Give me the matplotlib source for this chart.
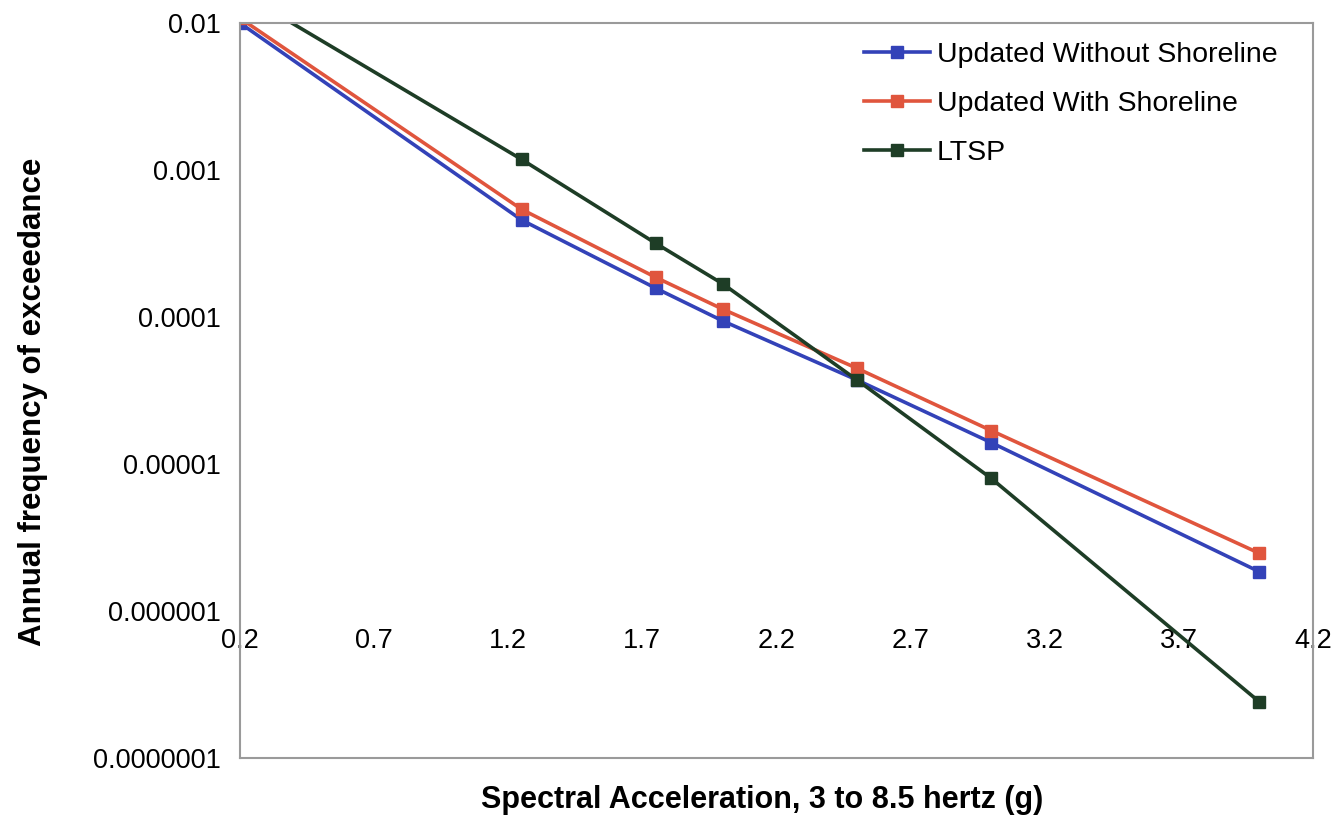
import matplotlib
matplotlib.use("Agg")
import matplotlib.pyplot as plt

# Datos
aceleracion = [0.2, 1.25, 1.75, 2.0, 2.5, 3.0, 4.0]
sin_costa = [0.0100, 4.57e-4, 1.57e-4, 9.4e-5, 3.73e-5, 1.40e-5, 1.85e-6]
con_costa = [0.0108, 5.4e-4, 1.86e-4, 1.13e-4, 4.48e-5, 1.69e-5, 2.47e-6]
ltsp = [0.0162, 1.18e-3, 3.17e-4, 1.68e-4, 3.73e-5, 8.0e-6, 2.41e-7]

etiquetas_x = ["0.2", "0.7", "1.2", "1.7", "2.2", "2.7", "3.2", "3.7", "4.2"]
valores_x = [0.2, 0.7, 1.2, 1.7, 2.2, 2.7, 3.2, 3.7, 4.2]
valores_y = [1e-7, 1e-6, 1e-5, 1e-4, 1e-3, 1e-2]
etiquetas_y = ["0.0000001", "0.000001", "0.00001", "0.0001", "0.001", "0.01"]

plt.rcParams["font.family"] = ["Liberation Sans", "DejaVu Sans"]

fig = plt.figure(figsize=(13.42, 8.33), dpi=100)
ax = fig.add_axes([0.1788, 0.090, 0.7996, 0.8824])

estilo = dict(marker="s", markersize=8.5, linewidth=2.6, clip_on=True)
ax.plot(aceleracion, sin_costa, color="#3342b8", label="Updated Without Shoreline", **estilo)
ax.plot(aceleracion, con_costa, color="#e0553d", label="Updated With Shoreline", **estilo)
ax.plot(aceleracion, ltsp, color="#1e3d26", label="LTSP", **estilo)

ax.set_yscale("log")
ax.set_xlim(0.2, 4.2)
ax.set_ylim(1e-7, 1e-2)
ax.set_yticks(valores_y)
ax.set_yticklabels(etiquetas_y)
ax.yaxis.set_minor_locator(matplotlib.ticker.NullLocator())
ax.tick_params(axis="y", length=0, pad=14, labelsize=19.5)

# el eje x cruza en 0.000001 (como en Excel)
ax.set_xticks([])
sec = ax.secondary_xaxis(0.2)
sec.set_xticks(valores_x)
sec.set_xticklabels(etiquetas_x)
sec.tick_params(length=0, pad=12, labelsize=19.5)
sec.spines["bottom"].set_visible(False)

for lado in ["left", "right", "top", "bottom"]:
    ax.spines[lado].set_color("#9a9a9a")
    ax.spines[lado].set_linewidth(1.5)

ax.set_ylabel("Annual frequency of exceedance", fontsize=22.5, fontweight="bold")
ax.yaxis.set_label_coords(-0.179, 0.485)
ax.set_xlabel("Spectral Acceleration, 3 to 8.5 hertz (g)", fontsize=22, fontweight="bold")
ax.xaxis.set_label_coords(0.4865, -0.037)

ax.legend(loc="upper left", bbox_to_anchor=(0.571, 0.99), frameon=False, fontsize=20.5,
          handlelength=2.3, handletextpad=0.25, labelspacing=0.82, borderaxespad=0)

fig.savefig("out.png", dpi=100)
